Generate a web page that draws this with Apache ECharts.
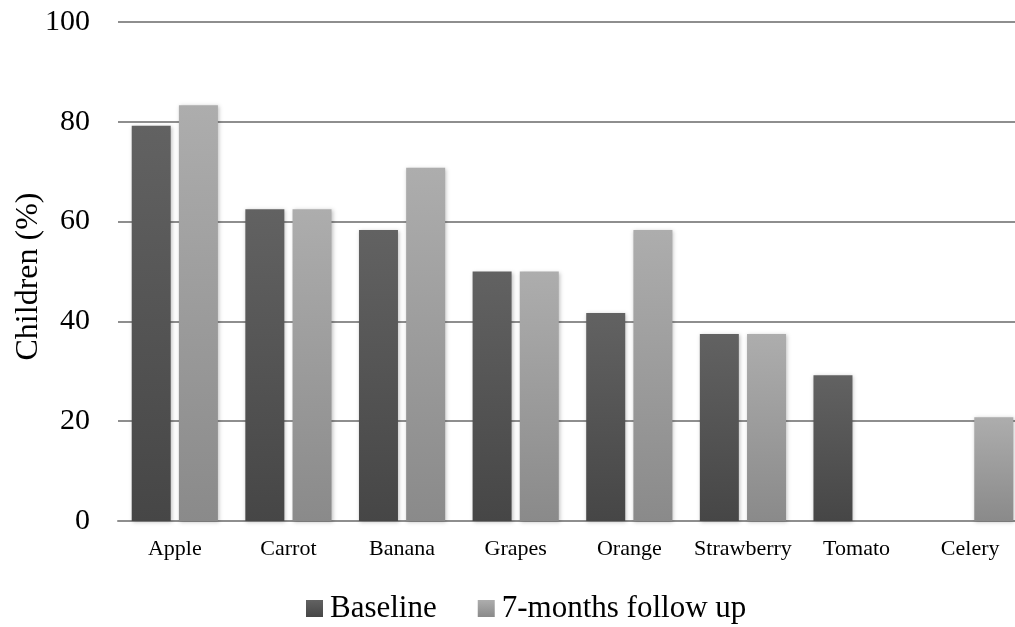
<!DOCTYPE html>
<html>
<head>
<meta charset="utf-8">
<script src="https://cdn.jsdelivr.net/npm/echarts@6/dist/echarts.min.js"></script>
<style>html,body{margin:0;padding:0;background:#fff}#c{width:1015px;height:627px}</style>
</head>
<body>
<div id="c"></div>
<script>
const categories = ['Apple', 'Carrot', 'Banana', 'Grapes', 'Orange', 'Strawberry', 'Tomato', 'Celery'];
const baseline = [79.2, 62.5, 58.3, 50.0, 41.7, 37.5, 29.2, 0];
const followUp = [83.3, 62.5, 70.8, 50.0, 58.3, 37.5, 0, 20.8];
const yTicks = [0, 20, 40, 60, 80, 100];

const FONT = 'Liberation Serif';
function grad(top, bottom) {
  return new echarts.graphic.LinearGradient(0, 0, 0, 1, [
    { offset: 0, color: top }, { offset: 1, color: bottom }
  ]);
}
const chart = echarts.init(document.getElementById('c'), null, { renderer: 'canvas' });
chart.setOption({
  animation: false,
  backgroundColor: '#fff',
  grid: { left: 118, right: -12, top: 22, bottom: 106, containLabel: false, outerBoundsMode: 'none' },
  legend: {
    left: 306, top: 593, padding: 0,
    itemWidth: 17, itemHeight: 17, itemGap: 41,
    icon: 'rect',
    textStyle: { fontFamily: FONT, fontSize: 31, color: '#000', padding: [0, 0, 0, 2] },
    data: ['Baseline', '7-months follow up']
  },
  xAxis: {
    type: 'category',
    data: categories,
    axisLine: { lineStyle: { color: '#8e8e8e', width: 2 } },
    axisTick: { show: false },
    axisLabel: { fontFamily: FONT, fontSize: 22, color: '#000', margin: 17, interval: 0 }
  },
  yAxis: {
    type: 'value',
    min: yTicks[0], max: yTicks[yTicks.length - 1], interval: 20,
    name: 'Children (%)',
    nameLocation: 'middle',
    nameGap: 73,
    nameMoveOverlap: false,
    nameTextStyle: { fontFamily: FONT, fontSize: 32, color: '#000', padding: [0, 10, 0, 0] },
    axisLine: { show: false },
    axisTick: { show: false },
    axisLabel: { fontFamily: FONT, fontSize: 30, color: '#000', margin: 28 },
    splitLine: { lineStyle: { color: '#8e8e8e', width: 2 } }
  },
  series: [
    {
      name: 'Baseline', type: 'bar', data: baseline,
      barWidth: 39, barGap: '21%',
      itemStyle: { color: grad('#626262', '#464646'), shadowBlur: 4, shadowColor: 'rgba(0,0,0,0.25)', shadowOffsetX: 1, shadowOffsetY: 1 }
    },
    {
      name: '7-months follow up', type: 'bar', data: followUp,
      barWidth: 39,
      itemStyle: { color: grad('#adadad', '#8a8a8a'), shadowBlur: 4, shadowColor: 'rgba(0,0,0,0.25)', shadowOffsetX: 1, shadowOffsetY: 1 }
    }
  ]
});
</script>
</body>
</html>
